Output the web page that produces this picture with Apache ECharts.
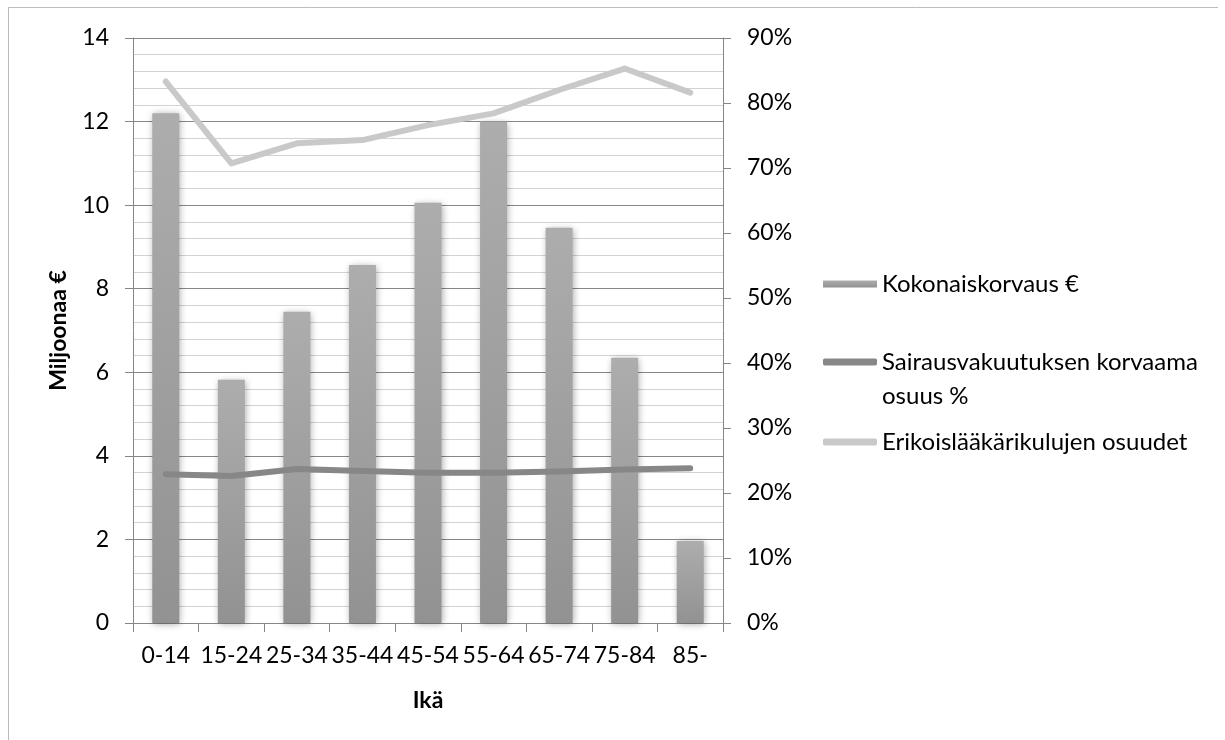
<!DOCTYPE html>
<html>
<head>
<meta charset="utf-8">
<script src="https://cdn.jsdelivr.net/npm/echarts@6/dist/echarts.min.js"></script>
<style>
  html, body { margin: 0; padding: 0; background: #fff; }
  #chart { width: 1225px; height: 740px; }
</style>
</head>
<body>
<div id="chart"></div>
<script>
// Age groups
const categories = ['0-14', '15-24', '25-34', '35-44', '45-54', '55-64', '65-74', '75-84', '85-'];
// Total reimbursement, million €
const kokonaiskorvaus = [12.2, 5.82, 7.45, 8.57, 10.06, 12.0, 9.46, 6.35, 1.96];
// Share reimbursed by health insurance, %
const sairausvakuutusOsuus = [22.9, 22.6, 23.7, 23.4, 23.1, 23.1, 23.3, 23.6, 23.8];
// Share of specialist costs, %
const erikoislaakariOsuus = [83.3, 70.7, 73.8, 74.3, 76.6, 78.4, 82.0, 85.3, 81.6];

const nameBar = 'Kokonaiskorvaus €';
const nameDark = 'Sairausvakuutuksen korvaama osuus %';
const nameLight = 'Erikoislääkärikulujen osuudet';

const FONT = 'Lato';
const FS = 23;
const LEGEND_FS = 24;
const axisGray = '#868686';

const chart = echarts.init(document.getElementById('chart'));

const legendBase = {
  orient: 'vertical',
  left: 823,
  padding: 0,
  itemWidth: 54,
  itemHeight: 7,
  selectedMode: false,
  textStyle: { fontFamily: FONT, fontSize: LEGEND_FS, color: '#000', lineHeight: 26 }
};

chart.setOption({
  animation: false,
  backgroundColor: '#fff',
  grid: { left: 133, right: 502, top: 38, bottom: 117 },
  legend: [
    Object.assign({}, legendBase, { top: 271, data: [{ name: nameBar, icon: 'rect' }] }),
    Object.assign({}, legendBase, {
      top: 349,
      data: [{ name: nameDark, icon: 'roundRect' }],
      formatter: () => 'Sairausvakuutuksen korvaama'
    }),
    Object.assign({}, legendBase, { top: 429, data: [{ name: nameLight, icon: 'roundRect' }] })
  ],
  graphic: [
    { type: 'line', shape: { x1: 8, y1: 7.5, x2: 1218, y2: 7.5 }, style: { stroke: '#bcbcbc', lineWidth: 1 } },
    { type: 'line', shape: { x1: 8.5, y1: 7, x2: 8.5, y2: 740 }, style: { stroke: '#bcbcbc', lineWidth: 1 } },
    {
      type: 'text', left: 882, top: 384,
      style: { text: 'osuus %', fontFamily: FONT, fontSize: LEGEND_FS, fill: '#000' }
    }
  ],
  xAxis: {
    type: 'category',
    data: categories,
    boundaryGap: true,
    axisLine: { lineStyle: { color: axisGray, width: 1 } },
    axisTick: { show: true, length: 9, lineStyle: { color: axisGray } },
    axisLabel: { color: '#000', fontFamily: FONT, fontSize: FS, margin: 21, interval: 0, hideOverlap: false },
    name: 'Ikä',
    nameLocation: 'middle',
    nameGap: 66,
    nameTextStyle: { fontFamily: FONT, fontSize: FS, fontWeight: 'bold', color: '#000' }
  },
  yAxis: [
    {
      type: 'value',
      min: 0, max: 14, interval: 2,
      axisLine: { show: true, lineStyle: { color: axisGray } },
      axisTick: { show: true, length: 8, lineStyle: { color: axisGray } },
      axisLabel: { color: '#000', fontFamily: FONT, fontSize: FS, margin: 24 },
      splitLine: { show: true, lineStyle: { color: axisGray, width: 1 } },
      minorTick: { show: false, splitNumber: 5 },
      minorSplitLine: { show: true, lineStyle: { color: '#d2d2d2', width: 1 } },
      name: 'Miljoonaa €',
      nameLocation: 'middle',
      nameGap: 63,
      nameTextStyle: { fontFamily: FONT, fontSize: FS, fontWeight: 'bold', color: '#000' }
    },
    {
      type: 'value',
      min: 0, max: 90, interval: 10,
      position: 'right',
      axisLine: { show: true, lineStyle: { color: axisGray } },
      axisTick: { show: true, length: 8, lineStyle: { color: axisGray } },
      axisLabel: { color: '#000', fontFamily: FONT, fontSize: FS, margin: 24, formatter: '{value}%' },
      splitLine: { show: false }
    }
  ],
  series: [
    {
      name: nameBar,
      type: 'bar',
      yAxisIndex: 0,
      data: kokonaiskorvaus,
      barWidth: 27,
      itemStyle: {
        color: new echarts.graphic.LinearGradient(0, 0, 0, 1, [
          { offset: 0, color: '#adadad' },
          { offset: 1, color: '#929292' }
        ]),
        shadowBlur: 7,
        shadowColor: 'rgba(0,0,0,0.35)',
        shadowOffsetX: 1,
        shadowOffsetY: 1
      },
      z: 2
    },
    {
      name: nameDark,
      type: 'line',
      yAxisIndex: 1,
      data: sairausvakuutusOsuus,
      symbol: 'none',
      lineStyle: { color: '#878787', width: 6, cap: 'round', join: 'round' },
      itemStyle: { color: '#878787' },
      z: 3
    },
    {
      name: nameLight,
      type: 'line',
      yAxisIndex: 1,
      data: erikoislaakariOsuus,
      symbol: 'none',
      lineStyle: { color: '#c9c9c9', width: 6, cap: 'round', join: 'round' },
      itemStyle: { color: '#c9c9c9' },
      z: 3
    }
  ]
});
</script>
</body>
</html>
